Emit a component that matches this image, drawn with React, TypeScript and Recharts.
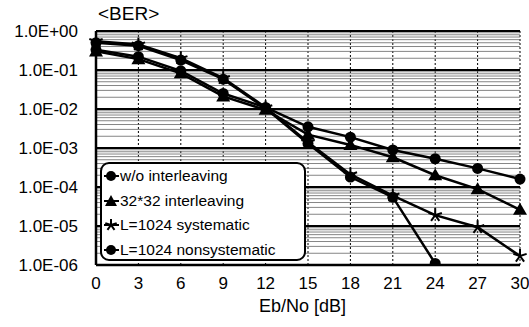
import React from 'react';
import { LineChart, Line, XAxis, YAxis, CartesianGrid, ReferenceLine } from 'recharts';

const snr = [0, 3, 6, 9, 12, 15, 18, 21, 24, 27, 30];

const woInterleaving = [0.33, 0.22, 0.095, 0.025, 0.011, 0.0035, 0.0019, 0.00089, 0.00053, 0.0003, 0.00016];
const interleaving32 = [0.3, 0.19, 0.082, 0.021, 0.0095, 0.0022, 0.0012, 0.00058, 0.0002, 0.000088, 0.000026];
const systematic = [0.55, 0.45, 0.2, 0.062, 0.011, 0.0014, 0.00021, 0.00006, 0.000019, 0.0000093, 0.0000017];
const nonsystematic = [0.5, 0.42, 0.18, 0.058, 0.0105, 0.0013, 0.00018, 0.000055, 0.0000011, null, null];

const yTicks = [1, 0.1, 0.01, 0.001, 0.0001, 0.00001, 0.000001];
const yTickLabels = ['1.0E+00', '1.0E-01', '1.0E-02', '1.0E-03', '1.0E-04', '1.0E-05', '1.0E-06'];

const seriesNames = ['w/o interleaving', '32*32 interleaving', 'L=1024 systematic', 'L=1024 nonsystematic'];

const data = snr.map((x, i) => ({
    x,
    a: woInterleaving[i],
    b: interleaving32[i],
    c: systematic[i],
    d: nonsystematic[i],
}));

// minor log grid lines between decades
const minorGrid: number[] = [];
for (let k = 0; k < 6; k++) {
    for (let m = 2; m <= 9; m++) {
        minorGrid.push(m * yTicks[k + 1]);
    }
}

const CircleDot = (props: any) => {
    const { cx, cy, value } = props;
    if (cx == null || cy == null || value == null) return null;
    return <circle cx={cx} cy={cy} r={5.5} fill="#000" />;
};

const TriangleDot = (props: any) => {
    const { cx, cy, value } = props;
    if (cx == null || cy == null || value == null) return null;
    return <polygon points={`${cx},${cy - 7} ${cx - 7},${cy + 5} ${cx + 7},${cy + 5}`} fill="#000" />;
};

const StarDot = (props: any) => {
    const { cx, cy, value } = props;
    if (cx == null || cy == null || value == null) return null;
    const r = 7;
    const lines = [0, 72, 144, 216, 288].map((deg) => {
        const a = ((deg - 90) * Math.PI) / 180;
        return <line key={deg} x1={cx} y1={cy} x2={cx + r * Math.cos(a)} y2={cy + r * Math.sin(a)} stroke="#000" strokeWidth={2} />;
    });
    return <g>{lines}</g>;
};

const markerIcons = [
    <circle cx={7} cy={7} r={5} fill="#000" />,
    <polygon points="7,1 1,12 13,12" fill="#000" />,
    <g>
        {[0, 72, 144, 216, 288].map((deg) => {
            const a = ((deg - 90) * Math.PI) / 180;
            return <line key={deg} x1={7} y1={7} x2={7 + 6 * Math.cos(a)} y2={7 + 6 * Math.sin(a)} stroke="#000" strokeWidth={2} />;
        })}
    </g>,
    <circle cx={7} cy={7} r={5} fill="#000" />,
];

const font = 'Arial, "Liberation Sans", sans-serif';

const LegendBox = () => (
    <div
        style={{
            position: 'absolute',
            left: 100,
            top: 162,
            width: 206,
            height: 99,
            boxSizing: 'border-box',
            background: '#fff',
            border: '2px solid #000',
            borderRadius: 9,
            padding: '0 0 0 2px',
            fontFamily: font,
            fontSize: 15.5,
            color: '#000',
            lineHeight: '24.5px',
        }}
    >
        {seriesNames.map((name, i) => (
            <div key={name} style={{ display: 'flex', alignItems: 'center', whiteSpace: 'nowrap' }}>
                <svg width={15} height={14} style={{ marginRight: 1 }}>
                    <line x1={0} y1={7} x2={15} y2={7} stroke="#000" strokeWidth={2} />
                    {markerIcons[i]}
                </svg>
                {name}
            </div>
        ))}
    </div>
);

export default function App() {
    return (
        <div style={{ position: 'absolute', left: 0, top: 0, width: 529, height: 327, background: '#fff' }}>
            <div style={{ position: 'absolute', left: 98, top: 3, fontFamily: font, fontSize: 19, color: '#000' }}>&lt;BER&gt;</div>
            <div style={{ position: 'absolute', left: 259, top: 296, fontFamily: font, fontSize: 18, color: '#000' }}>Eb/No [dB]</div>
            <LineChart width={529} height={327} data={data} margin={{ top: 31, right: 9, left: 0, bottom: 32 }}>
                <CartesianGrid horizontal={false} stroke="#000" strokeDasharray="2 2" />
                {minorGrid.map((v) => (
                    <ReferenceLine key={v} y={v} stroke="#666" strokeWidth={0.8} ifOverflow="hidden" />
                ))}
                {yTicks.map((v) => (
                    <ReferenceLine key={'d' + v} y={v} stroke="#000" strokeWidth={2} />
                ))}
                <XAxis
                    dataKey="x"
                    type="number"
                    domain={[0, 30]}
                    ticks={snr}
                    height={30}
                    tickLine={false}
                    axisLine={{ stroke: '#000', strokeWidth: 2.5 }}
                    tick={{ fill: '#000', fontSize: 17, fontFamily: font }}
                    tickMargin={6}
                />
                <XAxis xAxisId="top" orientation="top" dataKey="x" type="number" domain={[0, 30]} height={0} tick={false} tickLine={false} axisLine={{ stroke: '#000', strokeWidth: 2 }} />
                <YAxis
                    scale="log"
                    domain={[0.000001, 1]}
                    ticks={yTicks}
                    allowDataOverflow
                    width={96}
                    tickLine={false}
                    axisLine={{ stroke: '#000', strokeWidth: 2.5 }}
                    tick={{ fill: '#000', fontSize: 17, fontFamily: font }}
                    tickMargin={12}
                    tickFormatter={(v: number) => yTickLabels[yTicks.findIndex((t) => Math.abs(t - v) / t < 1e-6)] ?? ''}
                />
                <YAxis yAxisId="right" orientation="right" width={0} tick={false} tickLine={false} axisLine={{ stroke: '#000', strokeWidth: 2 }} />
                <Line dataKey="a" stroke="#000" strokeWidth={2.5} dot={<CircleDot />} isAnimationActive={false} />
                <Line dataKey="b" stroke="#000" strokeWidth={2.5} dot={<TriangleDot />} isAnimationActive={false} />
                <Line dataKey="c" stroke="#000" strokeWidth={2.5} dot={<StarDot />} isAnimationActive={false} />
                <Line dataKey="d" stroke="#000" strokeWidth={2.5} dot={<CircleDot />} isAnimationActive={false} />
            </LineChart>
            <LegendBox />
        </div>
    );
}
